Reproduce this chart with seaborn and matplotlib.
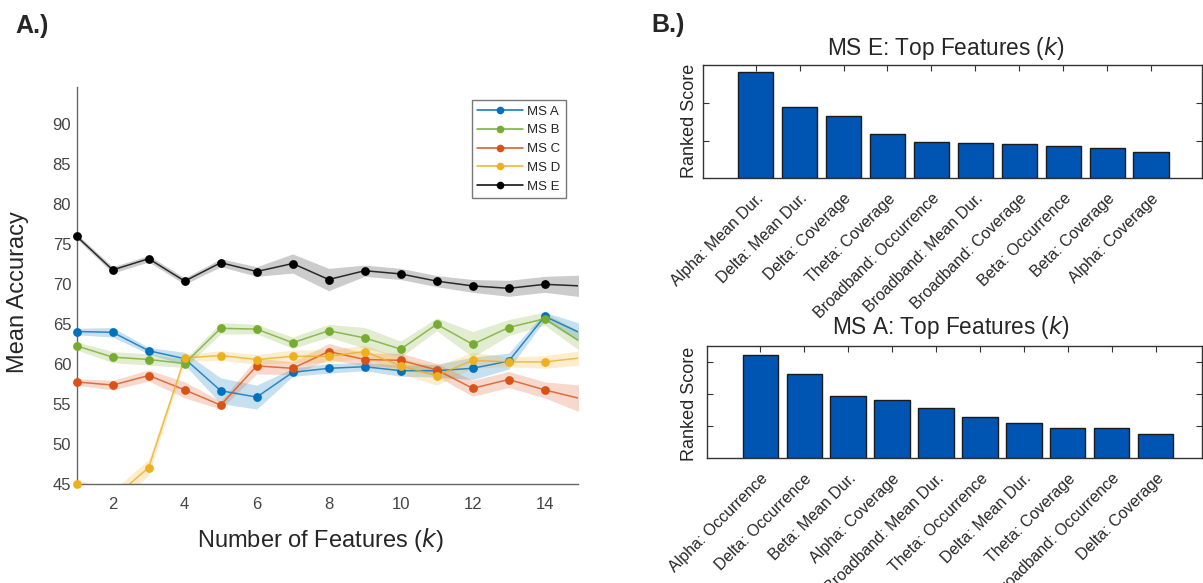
import numpy as np
import pandas as pd
import matplotlib
matplotlib.use('Agg')
import matplotlib.pyplot as plt
from matplotlib.lines import Line2D
from matplotlib.transforms import ScaledTranslation
import seaborn as sns

# panel A: mean accuracy vs number of features
k = list(range(1, 16))
ms_a = [64.1, 64.0, 61.7, 60.7, 56.7, 55.9, 59.0, 59.5, 59.7, 59.2, 59.2, 59.5, 60.4, 66.0, 63.9]
ms_b = [62.3, 60.9, 60.6, 60.1, 64.5, 64.4, 62.7, 64.2, 63.3, 61.9, 65.0, 62.5, 64.6, 65.7, 62.8]
ms_c = [57.8, 57.4, 58.6, 56.8, 54.9, 59.8, 59.5, 61.6, 60.6, 60.5, 59.3, 57.0, 58.1, 56.8, 55.7]
ms_d = [45.0, 43.2, 47.1, 60.8, 61.1, 60.6, 61.0, 61.0, 61.6, 59.8, 58.6, 60.5, 60.3, 60.3, 60.8]
ms_e = [76.0, 71.8, 73.2, 70.4, 72.7, 71.6, 72.6, 70.6, 71.7, 71.3, 70.4, 69.8, 69.5, 70.0, 69.8]
err_a = [0.4, 0.6, 0.4, 0.8, 1.6, 1.5, 0.5, 0.6, 0.5, 0.7, 0.8, 1.4, 1.0, 0.5, 1.2]
err_b = [0.5, 0.7, 0.7, 0.5, 0.7, 0.6, 0.7, 0.8, 1.3, 1.0, 0.8, 1.6, 1.0, 0.8, 1.2]
err_c = [0.4, 0.6, 0.7, 1.0, 0.5, 1.0, 0.8, 1.0, 0.8, 0.9, 0.8, 1.0, 1.0, 1.0, 1.7]
err_d = [0.6, 1.0, 1.0, 0.4, 0.6, 0.6, 0.8, 0.8, 0.8, 1.0, 1.2, 1.0, 0.6, 0.8, 0.9]
err_e = [0.3, 0.4, 0.4, 0.4, 0.5, 0.6, 1.2, 1.4, 0.7, 0.7, 0.7, 0.8, 1.0, 1.0, 1.35]
names = ['MS A', 'MS B', 'MS C', 'MS D', 'MS E']

# panel B: ranked feature scores
feat_e = ['Alpha: Mean Dur.', 'Delta: Mean Dur.', 'Delta: Coverage', 'Theta: Coverage',
          'Broadband: Occurrence', 'Broadband: Mean Dur.', 'Broadband: Coverage',
          'Beta: Occurrence', 'Beta: Coverage', 'Alpha: Coverage']
score_e = [2.84, 1.89, 1.65, 1.19, 0.97, 0.95, 0.91, 0.86, 0.80, 0.70]
feat_a = ['Alpha: Occurrence', 'Delta: Occurrence', 'Beta: Mean Dur.', 'Alpha: Coverage',
          'Broadband: Mean Dur.', 'Theta: Occurrence', 'Delta: Mean Dur.', 'Theta: Coverage',
          'Broadband: Occurrence', 'Delta: Coverage']
score_a = [3.20, 2.60, 1.93, 1.81, 1.56, 1.27, 1.10, 0.94, 0.93, 0.74]

sns.set_style('white')
plt.rcParams['font.family'] = ['Liberation Sans', 'DejaVu Sans']

colors = ['#0072BD', '#77AC30', '#D95319', '#EDB120', '#000000']
means = [ms_a, ms_b, ms_c, ms_d, ms_e]
errs = [err_a, err_b, err_c, err_d, err_e]

fig = plt.figure(figsize=(12.03, 5.83), dpi=100)
W, H = 1203, 583


def px_axes(x0, y0, x1, y1):
    return fig.add_axes([x0 / W, 1 - y1 / H, (x1 - x0) / W, (y1 - y0) / H])


ax = px_axes(76.7, 87.3, 578.2, 484.3)
ylo, yhi = 45, 94.63
xhi = 14.93
for name, m, e, c in zip(names, means, errs, colors):
    m = np.array(m)
    e = np.array(e)
    ax.fill_between(k, m - e, m + e, color=c, alpha=0.22 if c != '#000000' else 0.2, linewidth=0)
    sns.lineplot(x=k, y=m, color=c, linewidth=1.1, alpha=0.8, ax=ax)
    vis = [(kk, vv) for kk, vv in zip(k, m) if kk <= xhi and vv >= ylo]
    sns.scatterplot(x=[p[0] for p in vis], y=[p[1] for p in vis], color=c, s=40,
                    edgecolor=c, linewidth=0, zorder=5, clip_on=False, ax=ax)

ax.set_xlim(1, xhi)
ax.set_ylim(ylo, yhi)
ax.set_xticks(range(2, 15, 2))
ax.set_yticks(range(45, 91, 5))
ax.set_xlabel('')
ax.set_ylabel('')
for s in ['top', 'right']:
    ax.spines[s].set_visible(False)
for s in ['left', 'bottom']:
    ax.spines[s].set_color('#666666')
    ax.spines[s].set_linewidth(1.0)
ax.tick_params(axis='both', direction='in', length=5, color='#666666',
               labelcolor='#444444', labelsize=12)
ax.tick_params(axis='x', pad=9)
ax.tick_params(axis='y', pad=4)

handles = [Line2D([0], [0], color=c, lw=1.1, marker='o', markersize=5.5,
                  markerfacecolor=c, markeredgewidth=0) for c in colors]
leg = ax.legend(handles, names, loc='upper left',
                bbox_to_anchor=((471.7 - 76.7) / 501.5, (484.3 - 100) / 397),
                fontsize=9.5, frameon=True, fancybox=False, handlelength=3.5,
                borderpad=0.4, labelspacing=0.5, handletextpad=0.3, borderaxespad=0)
leg.get_frame().set_edgecolor('#555555')
leg.get_frame().set_linewidth(1.0)

fig.text(18 / W, 1 - 292 / H, 'Mean Accuracy', rotation=90, ha='center', va='center', fontsize=17)
fig.text(320 / W, 1 - 540 / H, 'Number of Features ($\\it{k}$)', ha='center', va='center', fontsize=17)
fig.text(15 / W, 1 - 25.5 / H, 'A.)', ha='left', va='center', fontsize=18, fontweight='bold')
fig.text(651 / W, 1 - 25 / H, 'B.)', ha='left', va='center', fontsize=18, fontweight='bold')


def bar_panel(ax, feats, scores, xlim, ylim, yticks):
    df = pd.DataFrame({'feature': feats, 'score': scores})
    sns.barplot(data=df, x='feature', y='score', color='#0055B3', saturation=1,
                width=0.8, edgecolor='#1a1a1a', linewidth=1.0, ax=ax)
    ax.set_xlim(*xlim)
    ax.set_ylim(*ylim)
    ax.set_yticks(yticks)
    ax.set_yticklabels([])
    ax.set_xlabel('')
    ax.set_ylabel('')
    ax.set_xticks(range(len(feats)))
    ax.set_xticklabels(feats, rotation=45, ha='right', va='top', rotation_mode='anchor',
                       fontsize=11.5)
    shift = ScaledTranslation(8 / 100, 0, fig.dpi_scale_trans)
    for lab in ax.get_xticklabels():
        lab.set_transform(lab.get_transform() + shift)
    for s in ax.spines.values():
        s.set_color('#333333')
        s.set_linewidth(1.0)
    ax.tick_params(axis='both', direction='in', length=4, color='#333333',
                   top=True, right=True, bottom=True, left=True)
    ax.tick_params(axis='x', pad=9)


ax1 = px_axes(703, 65, 1202, 178.3)
bar_panel(ax1, feat_e, score_e, (-1.2, 10.16), (0, 3.02), [1, 2])
ax2 = px_axes(706.5, 345.7, 1202, 458.3)
bar_panel(ax2, feat_a, score_a, (-1.22, 10.05), (0, 3.49), [1, 2, 3])

fig.text(946 / W, 1 - 48.5 / H, 'MS E: Top Features ($\\it{k}$)', ha='center', va='center', fontsize=16.3)
fig.text(951 / W, 1 - 327.5 / H, 'MS A: Top Features ($\\it{k}$)', ha='center', va='center', fontsize=16.3)
fig.text(689 / W, 1 - 121 / H, 'Ranked Score', rotation=90, ha='center', va='center', fontsize=13)
fig.text(689 / W, 1 - 404 / H, 'Ranked Score', rotation=90, ha='center', va='center', fontsize=13)

fig.savefig('out.png', dpi=100)
